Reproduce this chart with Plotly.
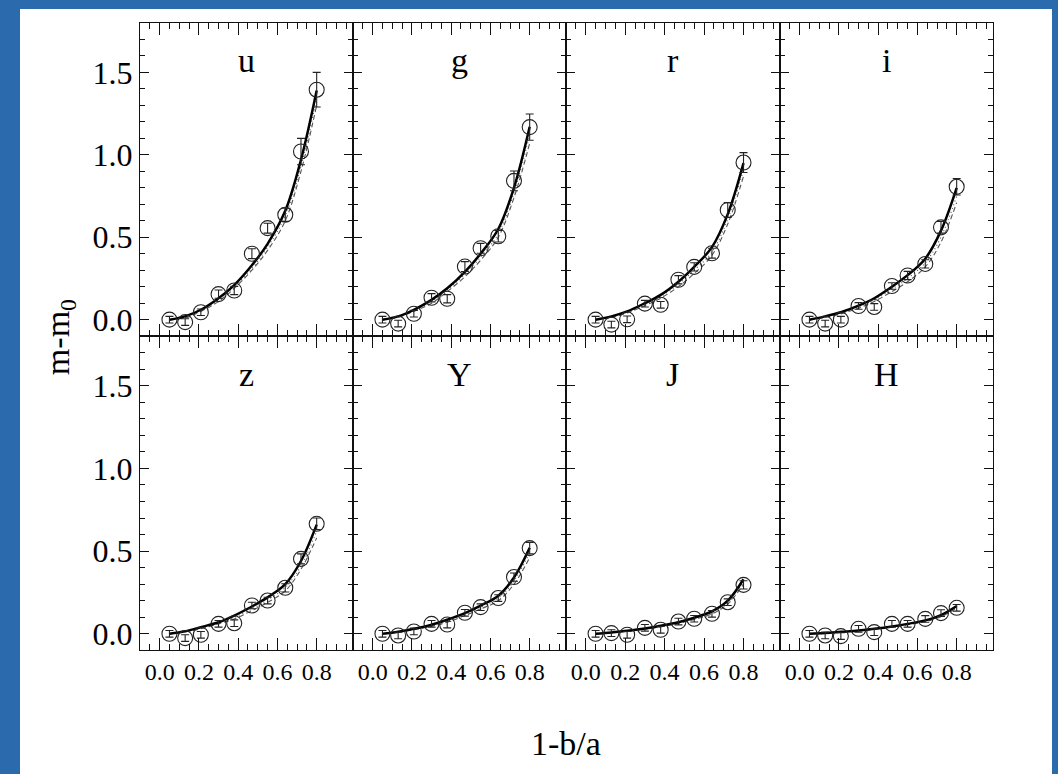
import plotly.graph_objects as go

W, H = 1058, 776

bands = ['u', 'g', 'r', 'i', 'z', 'Y', 'J', 'H']
x_ell = [0.05, 0.13, 0.21, 0.30, 0.38, 0.47, 0.55, 0.64, 0.72, 0.80]

obs_u = [0.00, -0.015, 0.045, 0.155, 0.177, 0.40, 0.555, 0.636, 1.02, 1.395]
obs_g = [0.00, -0.024, 0.036, 0.133, 0.127, 0.322, 0.433, 0.506, 0.842, 1.168]
obs_r = [0.00, -0.03, 0.002, 0.097, 0.09, 0.242, 0.32, 0.403, 0.665, 0.953]
obs_i = [0.00, -0.024, 0.00, 0.083, 0.077, 0.204, 0.268, 0.338, 0.56, 0.806]
obs_z = [0.00, -0.026, -0.006, 0.06, 0.064, 0.171, 0.201, 0.278, 0.453, 0.665]
obs_Y = [0.00, -0.01, 0.014, 0.06, 0.056, 0.127, 0.161, 0.216, 0.343, 0.518]
obs_J = [0.00, 0.004, -0.006, 0.036, 0.024, 0.074, 0.091, 0.121, 0.191, 0.296]
obs_H = [0.00, -0.01, -0.014, 0.03, 0.01, 0.06, 0.06, 0.09, 0.125, 0.157]

err_u = [0.02, 0.02, 0.02, 0.025, 0.025, 0.03, 0.03, 0.04, 0.08, 0.105]
err_g = [0.02, 0.02, 0.02, 0.025, 0.025, 0.03, 0.03, 0.035, 0.06, 0.08]
err_r = [0.02, 0.02, 0.02, 0.02, 0.02, 0.025, 0.025, 0.03, 0.045, 0.06]
err_i = [0.02, 0.02, 0.02, 0.02, 0.02, 0.02, 0.025, 0.025, 0.035, 0.05]
err_z = [0.02, 0.02, 0.02, 0.02, 0.02, 0.02, 0.02, 0.025, 0.03, 0.035]
err_Y = [0.02, 0.02, 0.02, 0.02, 0.02, 0.02, 0.02, 0.02, 0.025, 0.035]
err_J = [0.02, 0.02, 0.02, 0.02, 0.02, 0.02, 0.02, 0.02, 0.02, 0.025]
err_H = [0.02, 0.02, 0.02, 0.02, 0.02, 0.02, 0.02, 0.02, 0.02, 0.02]

# model curves at the same 1-b/a nodes
solid_u = [0.00, 0.02, 0.06, 0.13, 0.21, 0.33, 0.46, 0.66, 0.97, 1.39]
solid_g = [0.00, 0.02, 0.06, 0.12, 0.19, 0.29, 0.40, 0.55, 0.80, 1.17]
solid_r = [0.00, 0.02, 0.05, 0.10, 0.15, 0.23, 0.32, 0.44, 0.64, 0.95]
solid_i = [0.00, 0.02, 0.045, 0.085, 0.13, 0.20, 0.27, 0.37, 0.54, 0.80]
solid_z = [0.00, 0.015, 0.04, 0.07, 0.11, 0.165, 0.22, 0.30, 0.44, 0.66]
solid_Y = [0.00, 0.012, 0.03, 0.055, 0.085, 0.125, 0.17, 0.23, 0.34, 0.52]
solid_J = [0.00, 0.008, 0.018, 0.032, 0.048, 0.07, 0.097, 0.135, 0.20, 0.33]
solid_H = [0.00, 0.005, 0.012, 0.02, 0.03, 0.044, 0.06, 0.081, 0.113, 0.168]

dash_u = [0.00, 0.01, 0.05, 0.11, 0.19, 0.30, 0.42, 0.60, 0.90, 1.30]
dash_g = [0.00, 0.015, 0.05, 0.10, 0.17, 0.26, 0.36, 0.50, 0.74, 1.07]
dash_r = [0.00, 0.015, 0.04, 0.085, 0.13, 0.20, 0.28, 0.39, 0.58, 0.87]
dash_i = [0.00, 0.015, 0.035, 0.07, 0.11, 0.17, 0.23, 0.32, 0.47, 0.71]
dash_z = [0.00, 0.012, 0.03, 0.06, 0.09, 0.14, 0.19, 0.26, 0.39, 0.58]
dash_Y = [0.00, 0.01, 0.025, 0.045, 0.07, 0.11, 0.15, 0.20, 0.30, 0.46]
dash_J = [0.00, 0.007, 0.016, 0.028, 0.042, 0.063, 0.087, 0.12, 0.18, 0.30]
dash_H = [0.00, 0.004, 0.01, 0.018, 0.027, 0.04, 0.055, 0.074, 0.103, 0.155]

dot_u = [0.00, 0.015, 0.055, 0.12, 0.20, 0.31, 0.44, 0.63, 0.93, 1.34]
dot_g = [0.00, 0.018, 0.055, 0.11, 0.18, 0.275, 0.38, 0.52, 0.77, 1.12]
dot_r = [0.00, 0.017, 0.045, 0.09, 0.14, 0.215, 0.30, 0.41, 0.61, 0.91]
dot_i = [0.00, 0.017, 0.04, 0.078, 0.12, 0.185, 0.25, 0.345, 0.50, 0.75]
dot_z = [0.00, 0.013, 0.035, 0.065, 0.10, 0.15, 0.205, 0.28, 0.41, 0.62]
dot_Y = [0.00, 0.011, 0.027, 0.05, 0.077, 0.117, 0.16, 0.215, 0.32, 0.49]
dot_J = [0.00, 0.0075, 0.017, 0.03, 0.045, 0.066, 0.092, 0.127, 0.19, 0.315]
dot_H = [0.00, 0.0045, 0.011, 0.019, 0.028, 0.042, 0.057, 0.077, 0.108, 0.16]

obs = dict(u=obs_u, g=obs_g, r=obs_r, i=obs_i, z=obs_z, Y=obs_Y, J=obs_J, H=obs_H)
err = dict(u=err_u, g=err_g, r=err_r, i=err_i, z=err_z, Y=err_Y, J=err_J, H=err_H)
solid = dict(u=solid_u, g=solid_g, r=solid_r, i=solid_i, z=solid_z, Y=solid_Y, J=solid_J, H=solid_H)
dashed = dict(u=dash_u, g=dash_g, r=dash_r, i=dash_i, z=dash_z, Y=dash_Y, J=dash_J, H=dash_H)
dotted = dict(u=dot_u, g=dot_g, r=dot_r, i=dot_i, z=dot_z, Y=dot_Y, J=dot_J, H=dot_H)

FONT = "Liberation Serif"
BLUE = "#2a6aad"

col_edges = [140, 353, 566, 780, 993]
row_edges = [23, 337, 652]

fig = go.Figure()
annotations = []

for k, b in enumerate(bands):
    r, c = divmod(k, 4)
    n = k + 1
    xa = 'x' if n == 1 else f'x{n}'
    ya = 'y' if n == 1 else f'y{n}'
    fig.add_trace(go.Scatter(x=x_ell, y=dashed[b], mode='lines', line_shape='spline',
                             line=dict(color='#555555', width=1.1, dash='5px,3px'),
                             xaxis=xa, yaxis=ya, showlegend=False, hoverinfo='skip'))
    fig.add_trace(go.Scatter(x=x_ell, y=dotted[b], mode='lines', line_shape='spline',
                             line=dict(color='#555555', width=1.1, dash='1px,3px'),
                             xaxis=xa, yaxis=ya, showlegend=False, hoverinfo='skip'))
    fig.add_trace(go.Scatter(x=x_ell, y=solid[b], mode='lines', line_shape='spline',
                             line=dict(color='black', width=2.5),
                             xaxis=xa, yaxis=ya, showlegend=False, hoverinfo='skip'))
    fig.add_trace(go.Scatter(x=x_ell, y=obs[b], mode='markers',
                             marker=dict(symbol='circle-open', size=15, color='#222222',
                                         line=dict(width=1.1, color='#222222')),
                             error_y=dict(type='data', array=err[b], visible=True,
                                          color='#222222', thickness=1.1, width=4),
                             xaxis=xa, yaxis=ya, showlegend=False))
    x0, x1 = col_edges[c] / W, col_edges[c + 1] / W
    y1 = 1 - row_edges[r] / H
    y0 = 1 - row_edges[r + 1] / H
    xkw = dict(showline=True, linecolor='#111111', linewidth=1.2, mirror='allticks',
               ticks='inside', tickcolor='#111111', showgrid=False, zeroline=False,
               tickfont=dict(family=FONT, size=24, color='black'),
               domain=[x0, x1], range=[-0.1, 0.985], anchor=ya,
               tickmode='linear', tick0=0, dtick=0.2, tickformat='.1f',
               ticklen=12, tickwidth=1.3,
               minor=dict(dtick=0.05, ticklen=6, ticks='inside', tickcolor='#111111', tickwidth=1.1),
               showticklabels=(r == 1))
    ykw = dict(showline=True, linecolor='#111111', linewidth=1.2, mirror='allticks',
               ticks='inside', tickcolor='#111111', showgrid=False, zeroline=False,
               tickfont=dict(family=FONT, size=32, color='black'),
               domain=[y0, y1], range=[-0.1, 1.8], anchor=xa,
               tickmode='linear', tick0=0, dtick=0.5, tickformat='.1f',
               ticklen=9, tickwidth=1.3,
               minor=dict(dtick=0.1, ticklen=5, ticks='inside', tickcolor='#111111', tickwidth=1.1),
               showticklabels=(c == 0))
    fig.update_layout({f'xaxis{"" if n == 1 else n}': xkw, f'yaxis{"" if n == 1 else n}': ykw})
    annotations.append(dict(text=b, x=0.44, y=1.57, xref=xa, yref=ya, showarrow=False,
                            xanchor='center', yanchor='middle',
                            font=dict(family=FONT, size=34, color='black')))

annotations.append(dict(text='1-b/a', x=566 / W, y=1 - 745 / H, xref='paper', yref='paper',
                        showarrow=False, xanchor='center', yanchor='middle',
                        font=dict(family=FONT, size=34, color='black')))
annotations.append(dict(text='m-m<sub>0</sub>', x=60 / W, y=1 - 338 / H, xref='paper', yref='paper',
                        showarrow=False, xanchor='center', yanchor='middle', textangle=-90,
                        font=dict(family=FONT, size=34, color='black')))

# blue frame around the white page (strips outside the plot areas)
frame = [
    dict(type='rect', xref='paper', yref='paper', x0=0, x1=20 / W, y0=0, y1=1,
         fillcolor=BLUE, line=dict(width=0), layer='above'),
    dict(type='rect', xref='paper', yref='paper', x0=1052 / W, x1=1, y0=0, y1=1,
         fillcolor=BLUE, line=dict(width=0), layer='above'),
    dict(type='rect', xref='paper', yref='paper', x0=0, x1=1, y0=1 - 9 / H, y1=1,
         fillcolor=BLUE, line=dict(width=0), layer='above'),
]

fig.update_layout(
    width=W, height=H, autosize=False,
    margin=dict(l=0, r=0, t=0, b=0),
    paper_bgcolor='white', plot_bgcolor='rgba(0,0,0,0)',
    annotations=annotations,
    shapes=frame,
    font=dict(family=FONT, color='black'),
)

fig.write_html("out.html")
